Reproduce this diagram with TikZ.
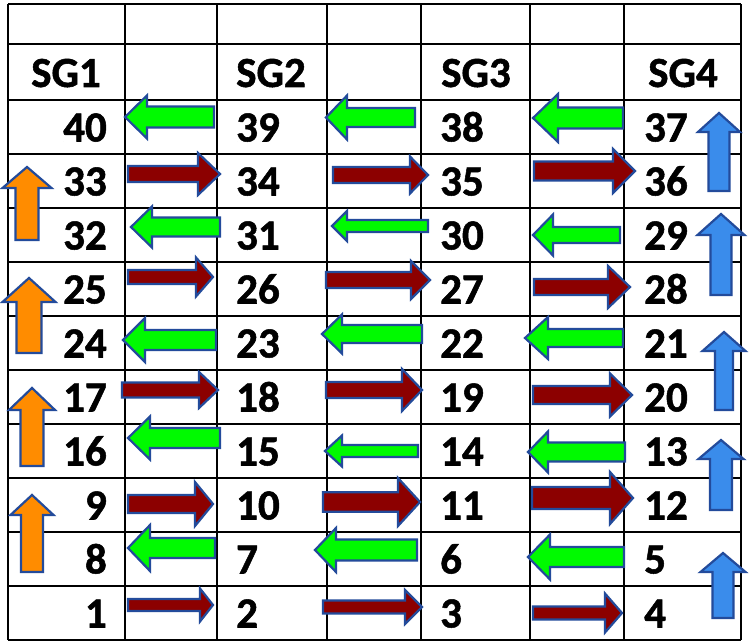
\documentclass[tikz,border=0pt]{standalone}
\usepackage{fontspec}
\setmainfont{Carlito}[BoldFeatures={FakeBold=1.2}]
\definecolor{agreen}{RGB}{0,250,0}
\definecolor{ared}{RGB}{140,0,0}
\definecolor{aorange}{RGB}{255,140,0}
\definecolor{ablue}{RGB}{58,140,235}
\definecolor{aedge}{RGB}{35,75,155}
\tikzset{
  gridline/.style={line width=2.6pt, black},
  arrowline/.style={draw=aedge, line width=2.2pt, line join=miter},
  numtxt/.style={inner sep=0pt, font=\fontsize{43}{50}\selectfont\bfseries},
}
% horizontal block arrow: tail x, head-base x, tip x, centre y, shaft half, head half, colour
\newcommand\harr[7]{\draw[arrowline, fill=#7] (#1,#4-#5) -- (#2,#4-#5) -- (#2,#4-#6) -- (#3,#4) -- (#2,#4+#6) -- (#2,#4+#5) -- (#1,#4+#5) -- cycle;}
% vertical block arrow: centre x, tip y, head-base y, bottom y, shaft half, head half, colour
\newcommand\varr[7]{\draw[arrowline, fill=#7] (#1-#5,#4) -- (#1-#5,#3) -- (#1-#6,#3) -- (#1,#2) -- (#1+#6,#3) -- (#1+#5,#3) -- (#1+#5,#4) -- cycle;}
\begin{document}
\begin{tikzpicture}[x=1pt,y=-1pt]
\useasboundingbox (0,0) rectangle (750,644);
\fill[white] (0,0) rectangle (750,644);
% grid
\foreach \xx in {8,125,217,327,421,530,624,741} \draw[gridline] (\xx,4) -- (\xx,640);
\foreach \yy in {4,44,100,154,208,262,316,370,424,478,532,586,640} \draw[gridline] (8,\yy) -- (741,\yy);
% column 2 arrows
\harr{214}{147}{125}{117}{10.5}{21.5}{agreen}
\harr{128}{198}{220}{174}{8}{21}{ared}
\harr{220}{152}{131}{227}{9.5}{20.5}{agreen}
\harr{128}{196}{213}{277}{7}{19.5}{ared}
\harr{216}{145}{123}{340}{10}{22}{agreen}
\harr{122}{199}{218}{390}{7.5}{18}{ared}
\harr{220}{150}{128}{438}{10}{21.5}{agreen}
\harr{128}{195}{213}{504}{9}{22}{ared}
\harr{215}{150}{128}{548}{10}{23}{agreen}
\harr{128}{200}{213}{605}{6}{16.5}{ared}
% column 4 arrows
\harr{415}{347}{326}{117.5}{9.5}{22}{agreen}
\harr{333}{410}{428}{175}{8}{18.5}{ared}
\harr{428}{347}{332}{226}{6}{15}{agreen}
\harr{326}{411}{430}{280}{8}{19}{ared}
\harr{422}{342}{322}{334}{9}{19.5}{agreen}
\harr{326}{402}{422}{390}{8}{21}{ared}
\harr{418}{342}{325}{451}{6}{15.5}{agreen}
\harr{323}{398}{420}{502}{9.7}{24}{ared}
\harr{417}{336}{315}{550}{10.5}{22}{agreen}
\harr{323}{405}{422}{607}{6.5}{17}{ared}
% column 6 arrows
\harr{623}{558}{533}{118}{10.5}{24}{agreen}
\harr{534}{613}{635}{171}{9.5}{22}{ared}
\harr{620}{553}{533}{235}{8}{20.5}{agreen}
\harr{534}{608}{630}{287}{8}{21}{ared}
\harr{623}{548}{525}{338}{9}{21}{agreen}
\harr{533}{610}{632}{395}{9}{21.5}{ared}
\harr{625}{548}{528}{452}{9.5}{20.5}{agreen}
\harr{532}{610}{633}{498}{11}{26}{ared}
\harr{624}{550}{528}{557}{10}{22.5}{agreen}
\harr{533}{605}{622}{613}{6.5}{19.5}{ared}
% SG1 up arrows
\varr{27}{167}{188}{240}{11.5}{24.5}{aorange}
\varr{29}{278}{302}{353}{12.5}{26.5}{aorange}
\varr{32}{388}{410}{466}{11.5}{23}{aorange}
\varr{32}{495}{515}{572}{11}{21.5}{aorange}
% SG4 up arrows
\varr{719}{113}{132}{191}{10.5}{21}{ablue}
\varr{721}{214}{235}{295}{10.5}{23.5}{ablue}
\varr{724}{332}{351}{410}{9}{21.5}{ablue}
\varr{721}{440}{459}{510}{11}{22.5}{ablue}
\varr{723}{553}{572}{618}{10.5}{22.5}{ablue}
% headers
\node[numtxt, anchor=base] (h1) at (66,87) {SG1};
\node[numtxt, anchor=base] (h2) at (271,87) {SG2};
\node[numtxt, anchor=base] (h3) at (476,87) {SG3};
\node[numtxt, anchor=base] (h4) at (683,87) {SG4};
% numbers
\foreach \a/\b/\c/\d [count=\r from 0] in {40/39/38/37,33/34/35/36,32/31/30/29,25/26/27/28,24/23/22/21,17/18/19/20,16/15/14/13,9/10/11/12,8/7/6/5,1/2/3/4}{
  \pgfmathsetmacro\yb{141.5+54*\r}
  \node[numtxt, anchor=base east] (n1-\r) at (107,\yb) {\a};
  \node[numtxt, anchor=base west] (n2-\r) at (236,\yb) {\b};
  \node[numtxt, anchor=base west] (n3-\r) at (440,\yb) {\c};
  \node[numtxt, anchor=base west] (n4-\r) at (644,\yb) {\d};
}
\end{tikzpicture}
\end{document}
